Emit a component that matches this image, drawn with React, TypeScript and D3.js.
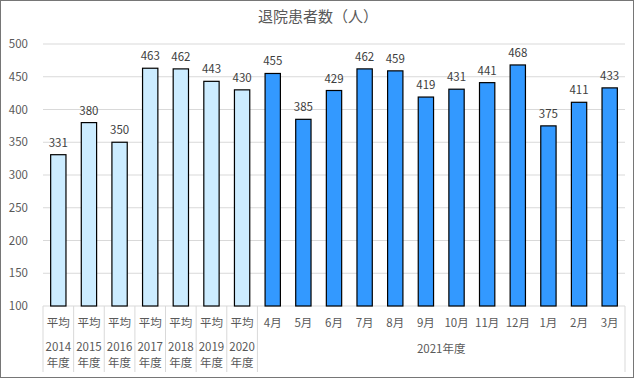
import React from "react";
import * as d3 from "d3";

const categories = ["平均", "平均", "平均", "平均", "平均", "平均", "平均", "4月", "5月", "6月", "7月", "8月", "9月", "10月", "11月", "12月", "1月", "2月", "3月"];
const yearLabels = ["2014", "2015", "2016", "2017", "2018", "2019", "2020"];
const groupLabel = "2021年度";
const values = [331, 380, 350, 463, 462, 443, 430, 455, 385, 429, 462, 459, 419, 431, 441, 468, 375, 411, 433];
const yTicks = [100, 150, 200, 250, 300, 350, 400, 450, 500];
const title = "退院患者数（人）";

const W = 634, H = 380;
const left = 43, right = 625, top = 44, bottom = 306;
const font = "'Noto Sans CJK JP', 'Noto Sans', sans-serif";

export default function App() {
  const x = d3.scaleBand<number>().domain(d3.range(values.length)).range([left, right]).paddingInner(0.5).paddingOuter(0.25);
  const y = d3.scaleLinear().domain([100, 500]).range([bottom, top]);
  const step = x.step();
  const catLeft = (i: number) => left + i * ((right - left) / values.length);
  const cw = (right - left) / values.length;
  const nAvg = yearLabels.length;
  return (
    <svg width={W} height={H} style={{ position: "absolute", left: 0, top: 0 }} fontFamily={font}>
      <rect x={0.5} y={0.5} width={W - 1} height={H - 3} fill="#fff" stroke="#767676" />
      <text x={318} y={22} textAnchor="middle" fontSize={15} fill="#595959">{title}</text>
      {yTicks.map((t) => (
        <g key={t}>
          <line x1={left} x2={right} y1={y(t)} y2={y(t)} stroke="#d9d9d9" />
          <text x={28} y={y(t) + 4} textAnchor="end" fontSize={11.5} fill="#595959">{t}</text>
        </g>
      ))}
      {values.map((v, i) => {
        const bw = cw * 0.5;
        const bx = catLeft(i) + cw * 0.25;
        return (
          <g key={i}>
            <rect x={bx} y={y(v)} width={bw} height={bottom - y(v)} fill={i < nAvg ? "#CCECFF" : "#3399FF"} stroke="#000" strokeWidth={1.2} />
            <text x={bx + bw / 2} y={y(v) - 8} textAnchor="middle" fontSize={11.5} fill="#404040">{v}</text>
          </g>
        );
      })}
      {/* category separators */}
      {d3.range(nAvg + 1).map((i) => (
        <line key={"s" + i} x1={catLeft(i)} x2={catLeft(i)} y1={bottom} y2={372} stroke="#d9d9d9" />
      ))}
      <line x1={right} x2={right} y1={bottom} y2={372} stroke="#d9d9d9" />
      {categories.map((c, i) => (
        <text key={"c" + i} x={catLeft(i) + cw / 2} y={327} textAnchor="middle" fontSize={11.5} fill="#595959">{c}</text>
      ))}
      {yearLabels.map((yl, i) => (
        <g key={"y" + i}>
          <text x={catLeft(i) + cw / 2} y={351} textAnchor="middle" fontSize={11.5} fill="#595959">{yl}</text>
          <text x={catLeft(i) + cw / 2} y={367} textAnchor="middle" fontSize={11.5} fill="#595959">年度</text>
        </g>
      ))}
      <text x={(catLeft(nAvg) + right) / 2} y={353} textAnchor="middle" fontSize={11.5} fill="#595959">{groupLabel}</text>
    </svg>
  );
}
